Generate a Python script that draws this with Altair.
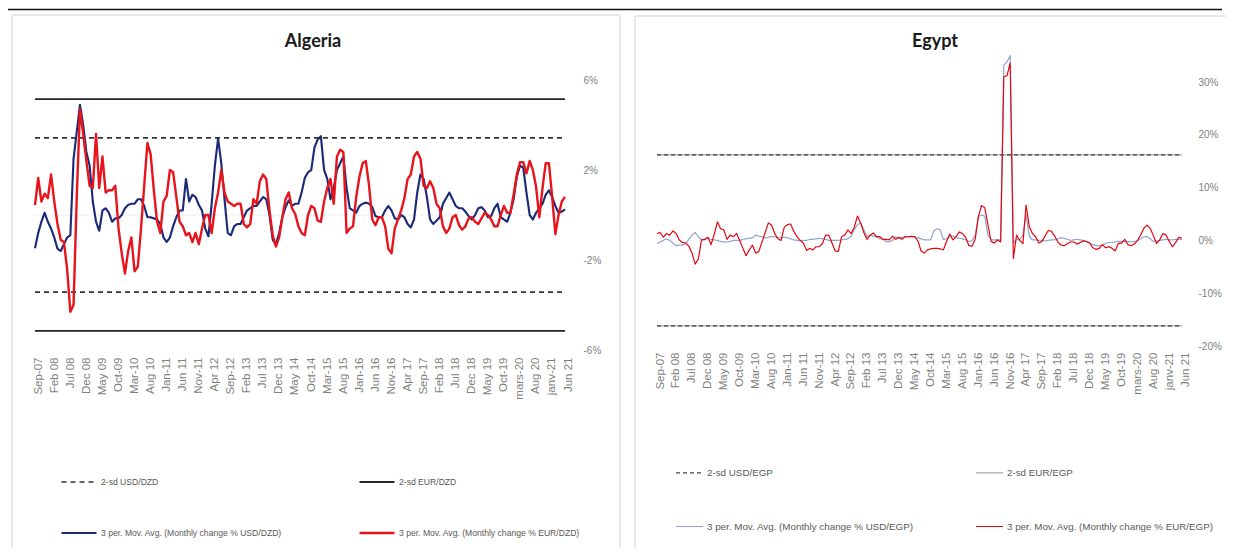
import json
import altair as alt
import pandas as pd

# ---------------- data ----------------
x_labels = ["Sep-07", "Feb 08", "Jul 08", "Dec 08", "May 09", "Oct-09", "Mar-10", "Aug 10",
            "Jan-11", "Jun 11", "Nov-11", "Apr 12", "Sep-12", "Feb 13", "Jul 13", "Dec 13",
            "May 14", "Oct-14", "Mar-15", "Aug 15", "Jan-16", "Jun 16", "Nov-16", "Apr 17",
            "Sep-17", "Feb 18", "Jul 18", "Dec 18", "May 19", "Oct-19", "mars-20", "Aug 20",
            "janv-21", "Jun 21"]

# Algeria: 3-period moving average of monthly change (%), Sep-07 .. Jun-21
alg_usd = [-1.48, -0.8, -0.3, 0.1, -0.3, -0.6, -1.0, -1.5, -1.6, -1.3,
           -1.0, -0.9, 2.5, 3.7, 4.9, 4.0, 2.8, 2.2, 0.6, -0.3,
           -0.7, 0.2, 0.3, 0.1, -0.3, -0.15, -0.15, 0.0, 0.3, 0.45,
           0.5, 0.5, 0.7, 0.7, 0.4, -0.1, -0.1, -0.15, -0.2, -0.4,
           -1.0, -1.2, -1.0, -0.5, -0.1, 0.2, 0.2, 1.6, 0.6, 0.9,
           0.8, 0.45, 0.2, -0.6, -0.95, 0.5, 2.2, 3.4, 2.3, 0.7,
           -0.8, -0.9, -0.5, -0.4, -0.4, -0.1, 0.2, 0.3, 0.4, 0.4,
           0.6, 0.8, 0.7, 0.0, -1.1, -1.3, -0.8, -0.1, 0.35, 0.65,
           0.4, 0.5, 0.5, 1.0, 1.65, 1.9, 2.0, 3.0, 3.35, 3.5,
           2.0, 1.6, 0.7, 1.2, 2.0, 2.3, 2.6, 1.2, 0.3, 0.2,
           0.1, 0.4, 0.5, 0.55, 0.5, 0.35, -0.05, -0.1, -0.1, 0.2,
           0.4, 0.2, -0.15, -0.2, 0.0, -0.1, -0.4, -0.55, -0.2, 1.0,
           1.8, 1.6, 0.8, -0.2, -0.4, -0.25, -0.1, 0.5, 0.75, 1.0,
           0.7, 0.4, 0.3, 0.3, 0.15, -0.05, -0.2, 0.0, 0.3, 0.35,
           0.2, -0.1, -0.05, 0.3, 0.5, -0.1, -0.2, -0.3, 0.1, 0.7,
           1.7, 2.2, 2.1, 1.0, 0.0, -0.2, 0.1, 0.3, 0.5, 0.9,
           1.1, 0.8, 0.4, 0.1, 0.15, 0.25]
alg_eur = [0.44, 1.65, 0.6, 0.95, 0.75, 1.8, 0.6, -0.4, -1.1, -1.2,
           -2.4, -4.3, -4.0, 0.8, 4.7, 3.6, 2.4, 1.3, 1.2, 3.6,
           1.2, 2.6, 1.0, 1.1, 1.1, 1.3, -0.6, -1.7, -2.6, -1.6,
           -1.0, -2.5, -2.3, -0.6, 1.3, 3.2, 2.7, 1.1, -0.3, -0.8,
           0.6, 0.85, 2.0, 1.9, 0.8, -0.3, -0.5, -0.9, -0.8, -1.2,
           -0.8, -1.3, -0.6, 0.0, 0.0, -0.8, 0.3, 1.0, 2.0, 1.0,
           0.6, 0.5, 0.4, 0.5, 0.5, -0.4, -0.55, -0.4, 0.7, 0.5,
           1.5, 1.8, 1.6, 0.2, -0.9, -1.4, -1.0, -0.1, 0.7, 1.0,
           0.3, 0.05, -0.5, -0.8, -0.9, 0.0, 0.4, 0.3, -0.25, -0.3,
           0.6, 1.2, 1.6, 0.5, 2.6, 2.9, 2.8, -0.8, -0.6, -0.5,
           0.8, 1.7, 2.3, 2.4, 1.3, -0.2, -0.45, -0.1, -0.1, -0.5,
           -1.5, -1.7, -0.6, -0.2, 0.2, 0.75, 1.6, 1.8, 2.6, 2.8,
           2.5, 1.3, 1.2, 1.5, 1.2, 0.5, 0.3, -0.5, -0.8, -0.6,
           -0.1, 0.0, -0.45, -0.65, -0.5, -0.15, -0.1, -0.3, -0.4, -0.15,
           0.1, 0.0, -0.2, -0.5, -0.5, 0.0, 0.4, 0.1, 0.1, 0.9,
           1.8, 2.35, 2.35, 1.85, 2.4, 2.0, 1.25, -0.1, 1.2, 2.3,
           2.3, 0.8, -0.85, 0.0, 0.6, 0.8]

# Egypt
egy_usd = [-0.6, -0.3, 0.0, 0.3, 0.0, -0.5, -1.0, -0.9, -0.9, -0.6,
           0.2, 1.0, 1.5, 0.7, 0.1, 0.1, 0.4, 0.2, 0.1, 0.0,
           -0.2, -0.3, -0.3, -0.2, 0.0, 0.0, 0.0, 0.2, 0.3, 0.4,
           0.5, 1.0, 0.8, 0.7, 0.4, 0.6, 0.7, 0.7, 0.5, 0.5,
           0.6, 0.5, 0.3, 0.1, 0.0, -0.1, 0.0, 0.0, 0.2, 0.2,
           0.3, 0.4, 0.3, 0.2, 0.0, 0.0, 0.0, 0.0, 0.1, 0.2,
           0.3, 0.8, 2.0, 3.0, 3.3, 2.0, 0.7, 1.0, 0.8, 0.7,
           0.3, 0.2, -0.2, -0.3, 0.0, 0.7, 0.4, 0.6, 0.7, 0.7,
           0.8, 0.7, 0.5, 0.3, 0.1, 0.1, 0.1, 1.8, 2.2, 2.0,
           0.2, 0.3, 0.8, 0.8, 0.5, 0.4, 0.3, 0.1, -0.2, -0.1,
           1.0, 4.5, 4.8, 4.6, 1.0, 0.1, 0.1, 0.1, 0.1, 33.2,
           33.8, 35.0, -0.5, 0.2, 0.1, 1.0, 4.8, 0.8, 0.1, 0.1,
           0.0, 0.0, -0.1, 0.0, 0.1, 0.1, 0.3, 0.5, 0.4, 0.2,
           0.0, 0.1, 0.2, 0.1, 0.0, -0.2, -0.5, -0.8, -1.0, -1.0,
           -0.9, -0.6, -0.4, -0.4, -0.3, -0.2, -0.2, -0.2, -0.2, -0.3,
           -0.2, -0.1, 0.3, 0.7, 0.7, 0.3, -0.2, -0.1, 0.0, 0.1,
           0.2, 0.1, 0.1, 0.2, 0.2, 0.2]
egy_eur = [1.3, 1.5, 0.6, 1.3, 1.0, 1.8, 1.3, 0.1, -0.4, -0.5,
           -1.1, -2.4, -4.5, -3.5, 0.1, 0.2, 0.6, -0.8, 1.2, 3.5,
           2.2, 2.0, 0.2, 1.0, 0.7, 1.3, 0.0, -1.5, -2.9, -1.8,
           -0.9, -2.4, -2.1, -0.3, 1.5, 3.3, 2.9, 1.3, 0.3, 0.0,
           2.5, 3.0, 3.1, 1.7, 0.7, 0.0, -0.5, -1.9, -1.5, -1.8,
           -1.2, -1.2, -0.6, 1.0, 1.0, -0.5, -2.0, -2.1, 0.7, 1.0,
           2.0, 1.3, 2.5, 4.6, 3.3, 1.5, 0.2, 1.0, 1.4, 0.7,
           0.7, 0.2, 0.2, 0.1, 0.8, 0.2, 0.6, 0.2, 0.7, 0.7,
           0.7, 0.7, -0.1, -2.0, -2.4, -1.8, -1.6, -1.5, -1.5, -1.6,
           -1.8, -0.2, 1.2, 0.1, 0.7, 1.6, 1.3, 0.6, -1.0, -1.1,
           0.2, 4.5, 6.6, 6.2, 3.0, -0.2, -0.5, 0.1, -0.3, 31.0,
           31.2, 33.6, -3.4, 1.0, 0.0, -0.6, 6.7, 2.6, 1.3, 0.7,
           -0.5, -0.2, 0.9, 1.9, 1.7, 0.8, -0.3, -0.9, -1.0, -0.6,
           -0.3, -0.3, -0.7, -0.4, -0.1, -0.2, -0.5, -1.4, -1.7, -1.5,
           -0.8, -1.4, -1.2, -1.5, -2.0, -0.6, -0.5, 0.2, -0.8, -1.0,
           -0.7, 0.0, 1.0, 2.3, 2.9, 2.3, 0.9, -0.6, 0.1, 1.3,
           1.0, -0.2, -1.2, -0.4, 0.6, 0.4]

# +/- 2 standard deviation bands (%)
alg_sd_usd = 3.43
alg_sd_eur = 5.15
egy_sd_usd = 16.2
egy_sd_eur = 16.2

ALG = ["2-sd USD/DZD", "2-sd EUR/DZD",
       "3 per. Mov. Avg. (Monthly change % USD/DZD)",
       "3 per. Mov. Avg. (Monthly change % EUR/DZD)"]
EGY = ["2-sd USD/EGP", "2-sd EUR/EGP",
       "3 per. Mov. Avg. (Monthly change % USD/EGP)",
       "3 per. Mov. Avg. (Monthly change % EUR/EGP)"]

n = len(alg_usd)
idx = list(range(n))


def lines_df(usd, eur, names):
    return pd.DataFrame({"i": idx + idx, "v": usd + eur,
                         "series": [names[2]] * n + [names[3]] * n})


def rules_df(sd_usd, sd_eur, names, eur_first=False):
    rows = [(names[0], sd_usd), (names[0], -sd_usd), (names[1], sd_eur), (names[1], -sd_eur)]
    if eur_first:
        rows = rows[2:] + rows[:2]
    return pd.DataFrame({"series": [r[0] for r in rows], "v": [r[1] for r in rows],
                         "x0": [0] * 4, "x1": [n - 1] * 4})


alg_lines = lines_df(alg_usd, alg_eur, ALG)
egy_lines = lines_df(egy_usd, egy_eur, EGY)
alg_rules = rules_df(alg_sd_usd, alg_sd_eur, ALG)
egy_rules = rules_df(egy_sd_usd, egy_sd_eur, EGY, eur_first=True)
alg_zero = pd.DataFrame({"v": [0], "x0": [0], "x1": [n - 1]})

# ---------------- styling ----------------
FONT = "Liberation Sans"
TICK = "#7F7F7F"
label_expr = json.dumps(x_labels) + "[round(datum.value/5)]"
tick_vals = list(range(0, n, 5))


def x_axis(offset):
    return alt.Axis(orient="bottom", values=tick_vals, labelExpr=label_expr, labelAngle=-90,
                    labelFont=FONT, labelFontSize=11.5, labelColor=TICK, ticks=False,
                    domain=False, grid=False, title=None, offset=offset, labelPadding=0,
                    labelOffset=3, labelOverlap=False, labelFlush=False, labelBound=False,
                    zindex=1)


def y_axis(values, offset):
    return alt.Axis(orient="right", values=values, labelExpr="datum.value + '%'",
                    labelFont=FONT, labelFontSize=10, labelColor=TICK, ticks=False,
                    domain=False, grid=False, title=None, offset=offset, labelPadding=0,
                    labelFlush=False, labelOverlap=False, zindex=1)


def legend(x, y, size, col_pad, row_pad, fsize):
    return alt.Legend(orient="none", legendX=x, legendY=y, columns=2, direction="horizontal",
                      columnPadding=col_pad, rowPadding=row_pad, symbolType="stroke",
                      symbolSize=size, labelFont=FONT, labelFontSize=fsize,
                      labelColor="#595959", labelLimit=500, labelOffset=3, title=None)


def panel(lines, rules, names, xsc, ysc, xax, yax, colors, dashes, widths, leg):
    col = alt.Color("series:N", scale=alt.Scale(domain=names, range=colors), legend=leg)
    dash = alt.StrokeDash("series:N", scale=alt.Scale(domain=names, range=dashes), legend=leg)
    wid = alt.StrokeWidth("series:N", scale=alt.Scale(domain=names, range=widths), legend=leg)
    r = alt.Chart(rules).mark_rule().encode(
        x=alt.X("x0:Q", scale=xsc, axis=xax), x2="x1:Q",
        y=alt.Y("v:Q", scale=ysc, axis=yax),
        color=col, strokeDash=dash, strokeWidth=wid)
    l = alt.Chart(lines).mark_line(strokeJoin="round").encode(
        x=alt.X("i:Q", scale=xsc, axis=xax),
        y=alt.Y("v:Q", scale=ysc, axis=yax),
        color=col, strokeDash=dash, strokeWidth=wid)
    return r, l


alg_x = alt.Scale(domain=[0, n - 1], range=[27, 557], nice=False, zero=False)
alg_y = alt.Scale(domain=[-6, 6], range=[342, 72], nice=False, zero=False)
egy_x = alt.Scale(domain=[0, n - 1], range=[649, 1174], nice=False, zero=False)
egy_y = alt.Scale(domain=[-20, 30], range=[338, 74], nice=False, zero=False)

alg_xax = x_axis(-191)
alg_yax = y_axis([-6, -2, 2, 6], -643)
egy_xax = x_axis(-196)
egy_yax = y_axis([-20, -10, 0, 10, 20, 30], -28)

alg_zero_rule = alt.Chart(alg_zero).mark_rule(color="#EDEDED", strokeWidth=1).encode(
    x=alt.X("x0:Q", scale=alg_x, axis=alg_xax), x2="x1:Q",
    y=alt.Y("v:Q", scale=alg_y, axis=alg_yax))

alg_r, alg_l = panel(alg_lines, alg_rules, ALG, alg_x, alg_y, alg_xax, alg_yax,
                     ["#333333", "#262626", "#1B2A78", "#E8141B"],
                     [[5, 4], [1, 0], [1, 0], [1, 0]], [1.6, 2.4, 2.0, 1.8],
                     legend(52, 455, 1225, 72, 27, 8.6))
egy_r, egy_l = panel(egy_lines, egy_rules, EGY, egy_x, egy_y, egy_xax, egy_yax,
                     ["#404040", "#A6A6A6", "#8EA5C9", "#E30613"],
                     [[4, 3], [1, 0], [1, 0], [1, 0]], [1.2, 1.2, 1.5, 2.6],
                     legend(667, 450, 729, 59, 34, 9.8))

alg_panel = alt.layer(alg_zero_rule, alg_r, alg_l)
egy_panel = alt.layer(egy_r, egy_l)

# decorations: document rule, chart-area frames, panel titles
one = pd.DataFrame({"t": ["Algeria"]})
two = pd.DataFrame({"t": ["Egypt"]})
frame_l = alt.Chart(one).mark_rect(filled=False, stroke="#D4D4D4", strokeWidth=1).encode(
    x=alt.value(4), x2=alt.value(612), y=alt.value(7), y2=alt.value(600))
frame_r = alt.Chart(two).mark_rect(filled=False, stroke="#D4D4D4", strokeWidth=1).encode(
    x=alt.value(627), x2=alt.value(1240), y=alt.value(8), y2=alt.value(600))
top_line = alt.Chart(one).mark_rule(color="#111111", strokeWidth=1.5).encode(
    x=alt.value(-3), x2=alt.value(1214), y=alt.value(1.5))
title_l = alt.Chart(one).mark_text(font="Lato", fontSize=18, fontWeight="bold", color="#1A1A1A",
                                   align="center", baseline="middle").encode(
    x=alt.value(305), y=alt.value(34), text="t:N")
title_r = alt.Chart(two).mark_text(font="Lato", fontSize=18, fontWeight="bold", color="#1A1A1A",
                                   align="center", baseline="middle").encode(
    x=alt.value(927), y=alt.value(34), text="t:N")

deco = alt.layer(frame_l, frame_r, top_line, title_l, title_r)

chart = alt.layer(deco, alg_panel, egy_panel).resolve_scale(
    x="independent", y="independent", color="independent",
    strokeDash="independent", strokeWidth="independent"
).resolve_axis(x="independent", y="independent").resolve_legend(
    color="independent", strokeDash="independent", strokeWidth="independent"
).properties(
    width=1218, height=540, autosize=alt.AutoSizeParams(type="none"), padding=0,
    background="white"
).configure_view(stroke=None)

chart.save("out.html", embed_options={"renderer": "svg", "actions": False})
